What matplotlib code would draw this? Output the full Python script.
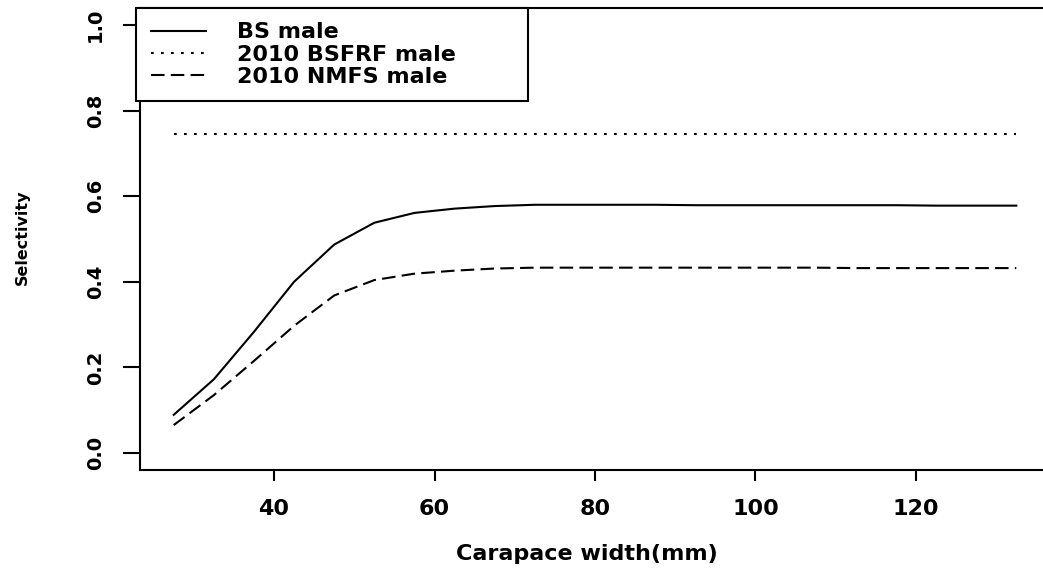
import matplotlib
matplotlib.use("Agg")
import matplotlib.pyplot as plt

# carapace width bins (mm) and selectivity by survey
widths = [27.5, 32.5, 37.5, 42.5, 47.5, 52.5, 57.5, 62.5, 67.5, 72.5, 77.5,
          82.5, 87.5, 92.5, 97.5, 102.5, 107.5, 112.5, 117.5, 122.5, 127.5, 132.5]
bs_male = [0.089, 0.172, 0.283, 0.400, 0.487, 0.538, 0.561, 0.571, 0.577, 0.580, 0.580,
           0.580, 0.580, 0.579, 0.579, 0.579, 0.579, 0.579, 0.579, 0.578, 0.578, 0.578]
bsfrf_male = [0.746, 0.746, 0.746, 0.746, 0.746, 0.746, 0.746, 0.746, 0.746, 0.746, 0.746,
              0.746, 0.746, 0.746, 0.746, 0.746, 0.746, 0.746, 0.746, 0.746, 0.746, 0.746]
nmfs_male = [0.065, 0.135, 0.215, 0.297, 0.368, 0.404, 0.419, 0.426, 0.431, 0.433, 0.433,
             0.433, 0.433, 0.433, 0.433, 0.433, 0.433, 0.432, 0.432, 0.432, 0.432, 0.432]
labels = ["BS male", "2010 BSFRF male", "2010 NMFS male"]
xticks = [40, 60, 80, 100, 120]
yticks = [0.0, 0.2, 0.4, 0.6, 0.8, 1.0]

plt.rcParams['font.family'] = 'DejaVu Sans'

W, H = 1043, 574
fig = plt.figure(figsize=(W / 100, H / 100), dpi=100)
ax = fig.add_axes([140 / W, 1 - 470 / H, 910 / W, 462 / H])

lw = 1.5
ax.plot(widths, bs_male, color='black', lw=lw, label=labels[0])
ax.plot(widths, bsfrf_male, color='black', lw=lw, dashes=(1.3, 3.5), label=labels[1])
ax.plot(widths, nmfs_male, color='black', lw=lw, dashes=(6.5, 3.0), label=labels[2])

ax.set_xlim(23.3, 136.7)
ax.set_ylim(-0.04, 1.04)
for s in ax.spines.values():
    s.set_linewidth(1.5)

ax.set_xticks(xticks)
ax.set_xticklabels([str(t) for t in xticks], fontsize=16, fontweight='bold')
ax.set_yticks(yticks)
ax.set_yticklabels(['%.1f' % t for t in yticks], fontsize=14, fontweight='bold',
                   rotation=90, va='center')
ax.tick_params(axis='x', length=8, width=1.5, pad=13)
ax.tick_params(axis='y', length=12, width=1.5, pad=13)

fig.text(22 / W, 1 - 237 / H, 'Selectivity', rotation=90, fontsize=11.5,
         fontweight='bold', ha='center', va='center')
fig.text(587 / W, 1 - 554 / H, 'Carapace width(mm)', fontsize=16,
         fontweight='bold', ha='center', va='center')

leg = ax.legend(loc='upper left', bbox_to_anchor=(-0.004, 0.8, 0.43, 0.2), mode='expand',
                borderaxespad=0, fancybox=False, framealpha=1, edgecolor='black',
                prop={'size': 16, 'weight': 'bold'}, handlelength=2.5,
                handletextpad=1.4, borderpad=0.65, labelspacing=0.1)
leg.get_frame().set_linewidth(1.5)

fig.savefig('out.png', dpi=100)
